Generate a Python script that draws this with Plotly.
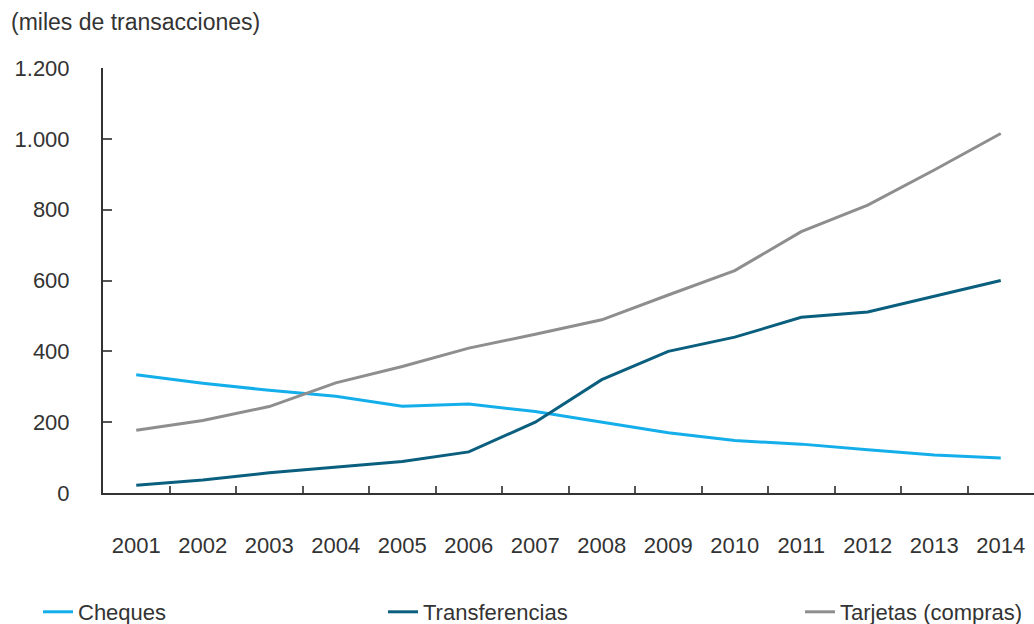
import plotly.graph_objects as go

years = [str(y) for y in range(2001, 2015)]
cheques = [334, 310, 290, 273, 245, 251, 230, 200, 170, 148, 138, 122, 107, 99]
transferencias = [22, 37, 57, 73, 89, 116, 200, 320, 400, 440, 496, 511, 555, 600]
tarjetas = [177, 205, 244, 311, 357, 409, 448, 489, 559, 628, 738, 813, 912, 1015]
y_ticks = [0, 200, 400, 600, 800, 1000, 1200]

FONT = "Liberation Sans, Arial, sans-serif"
TXT = "#333333"
FS = 22

fig = go.Figure()
fig.add_trace(go.Scatter(x=years, y=cheques, mode="lines", name="Cheques",
                         line=dict(color="#14AEEA", width=3), legend="legend"))
fig.add_trace(go.Scatter(x=years, y=transferencias, mode="lines", name="Transferencias",
                         line=dict(color="#0B5F7E", width=3), legend="legend2"))
fig.add_trace(go.Scatter(x=years, y=tarjetas, mode="lines", name="Tarjetas (compras)",
                         line=dict(color="#8E8E8E", width=3), legend="legend3"))

W, H = 1034, 624
L, R, T, B = 103, 0, 68, 131
pw = W - L - R

def px2paper(px):
    return (px - L) / pw

leg_common = dict(orientation="h", yref="container", y=12 / H, yanchor="middle",
                  xanchor="left", font=dict(family=FONT, size=FS, color=TXT),
                  bgcolor="rgba(0,0,0,0)", borderwidth=0)

fig.update_layout(
    width=W, height=H,
    margin=dict(l=L, r=R, t=T, b=B, pad=0),
    plot_bgcolor="white", paper_bgcolor="white",
    separators=",.",
    font=dict(family=FONT, size=FS, color=TXT),
    title=dict(text="(miles de transacciones)", xref="container", x=11 / W, xanchor="left",
               yref="container", y=1 - 22 / H, yanchor="middle",
               font=dict(family=FONT, size=23, color=TXT)),
    showlegend=True,
    legend=dict(x=px2paper(38), **leg_common),
    legend2=dict(x=px2paper(383), **leg_common),
    legend3=dict(x=px2paper(800), **leg_common),
    xaxis=dict(type="category", range=[-0.5, 13.5], tickson="boundaries",
               ticks="inside", ticklen=7, tickwidth=1.5, tickcolor="#555555",
               showline=True, linecolor="#333333", linewidth=2,
               showgrid=False, zeroline=False, ticklabelstandoff=32,
               tickfont=dict(family=FONT, size=FS, color=TXT)),
    yaxis=dict(range=[0, 1200], tickvals=y_ticks, tickformat=",d",
               ticks="inside", ticklen=9, tickwidth=1.5, tickcolor="#555555",
               showline=True, linecolor="#333333", linewidth=2,
               showgrid=False, zeroline=False, ticklabelstandoff=27,
               tickfont=dict(family=FONT, size=FS, color=TXT)),
)

fig.write_html("out.html")
